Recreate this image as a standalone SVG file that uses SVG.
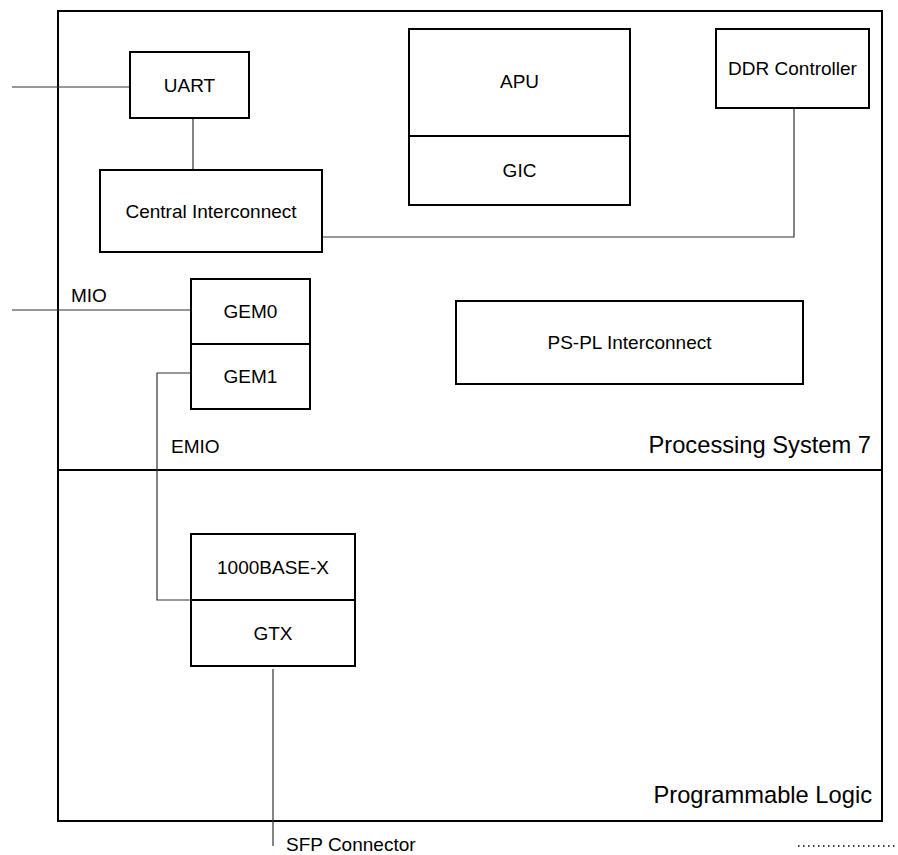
<svg xmlns="http://www.w3.org/2000/svg" width="898" height="855" viewBox="0 0 898 855">
<style>
.box{fill:#fff;stroke:#000;stroke-width:2}
.frame{fill:none;stroke:#000;stroke-width:2}
.wire{fill:none;stroke:#333;stroke-width:1.2}
text{font-family:"Liberation Sans",Arial,sans-serif;fill:#000}
.t{font-size:19px;text-anchor:middle}
.lbl{font-size:19px}
.big{font-size:23.7px;text-anchor:end}
</style>
<rect width="898" height="855" fill="#fff"/>
<g id="frame">
<rect class="frame" x="58" y="11" width="824" height="810"/>
<line class="frame" x1="58" y1="470" x2="882" y2="470"/>
<text class="big" x="871" y="453">Processing System 7</text>
<text class="big" x="872" y="803">Programmable Logic</text>
</g>
<g id="connectors">
<line class="wire" x1="12" y1="87" x2="130" y2="87"/>
<line class="wire" x1="193" y1="118" x2="193" y2="170"/>
<polyline class="wire" points="322,237 794,237 794,108"/>
<line class="wire" x1="12" y1="310" x2="191" y2="310"/>
<polyline class="wire" points="191,373 157,373 157,600 191,600"/>
<line class="wire" x1="273" y1="669" x2="273" y2="846"/>
<line x1="798" y1="846" x2="898" y2="846" stroke="#000" stroke-width="1.5" stroke-dasharray="1.5 3.5"/>
<text class="lbl" x="71" y="302">MIO</text>
<text class="lbl" x="171" y="453">EMIO</text>
<text class="lbl" x="286" y="851">SFP Connector</text>
</g>
<g id="uart">
<rect class="box" x="130" y="52" width="119" height="66"/>
<text class="t" x="189.5" y="92">UART</text>
</g>
<g id="central-interconnect">
<rect class="box" x="100" y="170" width="222" height="82"/>
<text class="t" x="211" y="218">Central Interconnect</text>
</g>
<g id="apu">
<rect class="box" x="409" y="29" width="221" height="107"/>
<text class="t" x="519.5" y="88">APU</text>
</g>
<g id="gic">
<rect class="box" x="409" y="136" width="221" height="69"/>
<text class="t" x="519.5" y="177">GIC</text>
</g>
<g id="ddr-controller">
<rect class="box" x="716" y="29" width="153" height="79"/>
<text class="t" x="792.5" y="75">DDR Controller</text>
</g>
<g id="ps-pl-interconnect">
<rect class="box" x="456" y="301" width="347" height="83"/>
<text class="t" x="629.5" y="349">PS-PL Interconnect</text>
</g>
<g id="gem0">
<rect class="box" x="191" y="279" width="119" height="65"/>
<text class="t" x="250.5" y="318">GEM0</text>
</g>
<g id="gem1">
<rect class="box" x="191" y="344" width="119" height="65"/>
<text class="t" x="250.5" y="383">GEM1</text>
</g>
<g id="base-x">
<rect class="box" x="191" y="534" width="164" height="66"/>
<text class="t" x="273" y="574">1000BASE-X</text>
</g>
<g id="gtx">
<rect class="box" x="191" y="600" width="164" height="66"/>
<text class="t" x="273" y="640">GTX</text>
</g>
</svg>
